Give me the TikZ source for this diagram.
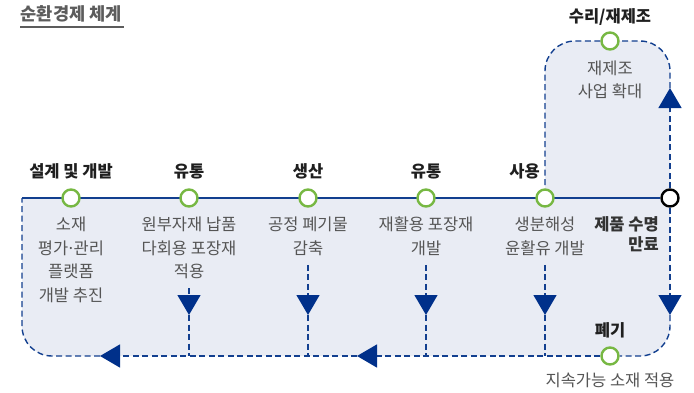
\documentclass[tikz,border=0pt]{standalone}
\usepackage{fontspec}
\setmainfont{Noto Sans CJK KR}
\usetikzlibrary{arrows.meta}

\definecolor{lineblue}{HTML}{123F8F}
\definecolor{tipblue}{HTML}{00308A}
\definecolor{ringgreen}{HTML}{77B843}
\definecolor{areashade}{HTML}{E9ECF4}
\definecolor{notegray}{HTML}{555555}
\definecolor{titlegray}{HTML}{5C5C5C}

\newcommand{\middot}{\kern-.12em·\kern-.12em}

\pgfdeclarelayer{shadelayer}
\pgfdeclarelayer{linelayer}
\pgfsetlayers{shadelayer,linelayer,main}

\tikzset{
  ring/.style={circle, draw=ringgreen, line width=2.4pt, fill=white, minimum size=17pt, inner sep=0pt},
  lastring/.style={ring, draw=black},
  stage/.style={font=\fontsize{16.5}{19}\selectfont\bfseries, text=black!88, inner sep=0pt, anchor=base},
  note/.style={font=\fontsize{16.5}{23.5}\selectfont, text=notegray, align=center, inner sep=0pt, anchor=north},
  flow/.style={draw=lineblue, line width=1.4pt, dash pattern=on 6pt off 3.5pt},
  flowtip/.style={flow, -{Triangle[width=23pt,length=20pt,color=tipblue]}},
}

\begin{document}
\begin{tikzpicture}[x=1pt,y=1pt]
	\useasboundingbox (0,0) rectangle (694,392);

	% title
	\node[font=\fontsize{17.6}{20}\selectfont\bfseries, text=titlegray, anchor=base west, inner sep=0pt] (title) at (20.5,371.7) {순환경제 체계};
	\draw[titlegray, line width=1.3pt] (20,365) -- (124,365);

	% stages on the line
	\coordinate (lstart) at (22,194);
	\node[ring] (d1) at (71,194) {};
	\node[ring] (d2) at (189,194) {};
	\node[ring] (d3) at (308,194) {};
	\node[ring] (d4) at (426,194) {};
	\node[ring] (d5) at (545,194) {};
	\node[lastring] (endc) at (670,194) {};
	\node[ring] (fix) at (610,351) {};
	\node[ring] (dump) at (610,36) {};

	\node[stage] (s1) at (71,215) {설계 및 개발};
	\node[stage] (s2) at (189,215) {유통};
	\node[stage] (s3) at (308,215) {생산};
	\node[stage] (s4) at (426,215) {유통};
	\node[stage, anchor=base east] (s5) at (540,215) {사용};
	\node[stage] (sfix) at (610,369) {수리/재제조};
	\node[stage] (sdump) at (610,56) {폐기};

	\node[note] (n1) at (71,175) {소재\\평가\middot 관리\\플랫폼\\개발 추진};
	\node[note] (n2) at (189,175) {원부자재 납품\\다회용 포장재\\적용};
	\node[note] (n3) at (308,175) {공정 폐기물\\감축};
	\node[note] (n4) at (426,175) {재활용 포장재\\개발};
	\node[note] (n5) at (545,175) {생분해성\\윤활유 개발};
	\node[note] (nfix) at (610,331.5) {재제조\\사업 확대};
	\node[note, font=\fontsize{16.5}{20.5}\selectfont\bfseries, text=black!80, align=right, anchor=north east] (nend) at (659,176) {제품 수명\\만료};
	\node[stage, font=\fontsize{16.5}{19}\selectfont, text=notegray] (ndump) at (610,6) {지속가능 소재 적용};

	% shaded area
	\begin{pgfonlayer}{shadelayer}
		\fill[areashade] (22,194) -- (545,194) -- (545,321)
			arc[start angle=180,end angle=90,radius=30pt] -- (640,351)
			arc[start angle=90,end angle=0,radius=30pt] -- (670,66)
			arc[start angle=0,end angle=-90,radius=30pt] -- (52,36)
			arc[start angle=270,end angle=180,radius=30pt] -- cycle;
	\end{pgfonlayer}

	\begin{pgfonlayer}{linelayer}
		% main line
		\draw[lineblue, line width=2.6pt] (lstart) -- (endc.west);
		% repair loop
		\coordinate (uptip) at (670,304);
		\draw[flowtip] (endc.north) -- (uptip);
		\draw[flow, rounded corners=30pt] (uptip) |- (fix.east);
		\draw[flow, rounded corners=30pt] (fix.west) -| (d5.north);
		% disposal loop
		\coordinate (rtip) at (670,77);
		\coordinate (btip2) at (357,36);
		\coordinate (btip1) at (100,36);
		\draw[flowtip] (endc.south) -- (rtip);
		\draw[flow, rounded corners=30pt] (rtip) |- (dump.east);
		\draw[flowtip] (dump.west) -- (btip2);
		\draw[flowtip] (btip2) -- (btip1);
		\draw[flow, rounded corners=30pt] (btip1) -| (lstart);
		% drops from the notes
		\foreach \n in {2,3,4,5} {
			\coordinate (tip\n) at (n\n.south |- rtip);
			\draw[flowtip] ([yshift=-9pt]n\n.south) -- (tip\n);
			\draw[flow] (tip\n) -- (tip\n |- btip1);
		}
	\end{pgfonlayer}
\end{tikzpicture}
\end{document}
